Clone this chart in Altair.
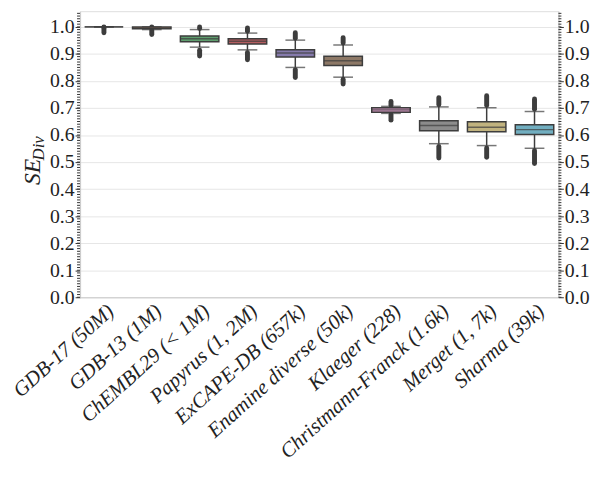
import altair as alt
import pandas as pd

names = ["GDB-17 (50M)", "GDB-13 (1M)", "ChEMBL29 (< 1M)", "Papyrus (1, 2M)",
         "ExCAPE-DB (657k)", "Enamine diverse (50k)", "Klaeger (228)",
         "Christmann-Franck (1.6k)", "Merget (1, 7k)", "Sharma (39k)"]
q1 = [1.000, 0.993, 0.945, 0.937, 0.889, 0.857, 0.684, 0.616, 0.612, 0.602]
med = [1.000, 0.997, 0.956, 0.947, 0.903, 0.875, 0.693, 0.635, 0.629, 0.620]
q3 = [1.000, 1.000, 0.966, 0.956, 0.915, 0.891, 0.701, 0.653, 0.649, 0.638]
wlo = [1.000, 0.990, 0.925, 0.915, 0.850, 0.814, 0.680, 0.568, 0.561, 0.551]
whi = [1.000, 1.000, 0.990, 0.977, 0.951, 0.933, 0.706, 0.704, 0.701, 0.687]
olo_in = [0.995, 0.988, 0.914, 0.905, 0.842, 0.806, 0.676, 0.558, 0.552, 0.543]
olo = [0.978, 0.972, 0.892, 0.878, 0.813, 0.789, 0.655, 0.515, 0.518, 0.495]
ohi_in = [1.000, 1.000, 0.994, 0.984, 0.958, 0.940, 0.710, 0.712, 0.709, 0.695]
ohi = [1.000, 1.000, 1.000, 0.996, 0.978, 0.960, 0.724, 0.738, 0.745, 0.733]
colors = ["#5975a4", "#cc8963", "#5f9e6e", "#b55d60", "#857aab",
          "#8d7866", "#d095bf", "#8c8c8c", "#c1b37f", "#71aec0"]
major_ticks = [0.0, 0.1, 0.2, 0.3, 0.4, 0.5, 0.6, 0.7, 0.8, 0.9, 1.0]
minor_ticks = [round(i * 0.01, 2) for i in range(0, 106)]

df = pd.DataFrame(dict(name=names, q1=q1, med=med, q3=q3, wlo=wlo, whi=whi,
                       olo_in=olo_in, olo=olo, ohi_in=ohi_in, ohi=ohi))
minor_df = pd.DataFrame(dict(v=minor_ticks))

FONT = "Liberation Serif"
LINE = "#3d3d3d"
W, H = 485, 290
ydom = [0, 1.058]
yscale = alt.Scale(domain=ydom, nice=False, zero=False)

xenc = alt.X("name:N", sort=names,
             scale=alt.Scale(paddingInner=0, paddingOuter=0),
             axis=alt.Axis(title=None, labelAngle=-42, labelFont=FONT,
                           labelFontSize=21, labelFontStyle="italic",
                           labelColor="#222222", ticks=False,
                           domainColor="#cccccc", domainWidth=1.2,
                           labelPadding=3, labelLimit=0, labelAlign="right",
                           labelBaseline="top"))

left_axis = alt.Axis(title=None, values=major_ticks, format=".1f", grid=True,
                     gridColor="#e6e6e6", gridWidth=1, tickColor="#333333",
                     tickSize=5, tickWidth=1, domainColor="#cccccc",
                     domainWidth=1.2, labelFont=FONT, labelFontSize=20,
                     labelColor="#222222", labelPadding=1)


def Y(field):
    return alt.Y(field, scale=yscale, axis=left_axis, title=None)


base = alt.Chart(df)
color = alt.Color("name:N", scale=alt.Scale(domain=names, range=colors), legend=None)

whisk_lo = base.mark_rule(color=LINE, strokeWidth=1.5).encode(
    x=xenc, y=Y("wlo:Q"), y2="q1:Q")
whisk_hi = base.mark_rule(color=LINE, strokeWidth=1.5).encode(
    x=xenc, y=Y("q3:Q"), y2="whi:Q")
out_lo = base.mark_rule(color=LINE, strokeWidth=5, strokeCap="round").encode(
    x=xenc, y=Y("olo:Q"), y2="olo_in:Q")
out_hi = base.mark_rule(color=LINE, strokeWidth=5, strokeCap="round").encode(
    x=xenc, y=Y("ohi_in:Q"), y2="ohi:Q")
cap_lo = base.mark_tick(color=LINE, size=20, thickness=1.5).encode(
    x=xenc, y=Y("wlo:Q"))
cap_hi = base.mark_tick(color=LINE, size=20, thickness=1.5).encode(
    x=xenc, y=Y("whi:Q"))
box = base.mark_bar(size=39, stroke=LINE, strokeWidth=1.5).encode(
    x=xenc, y=Y("q1:Q"), y2="q3:Q", color=color)
median = base.mark_tick(color=LINE, size=39, thickness=1.5).encode(
    x=xenc, y=Y("med:Q"))

minor_left = alt.Chart(minor_df).mark_rule(color="#333333", strokeWidth=1).encode(
    y=Y("v:Q"), x=alt.value(-3), x2=alt.value(0))
minor_right = alt.Chart(minor_df).mark_rule(color="#333333", strokeWidth=1).encode(
    y=Y("v:Q"), x=alt.value(W), x2=alt.value(W + 3))

title_se = alt.Chart(pd.DataFrame(dict(t=["SE"]))).mark_text(
    font=FONT, fontSize=24, fontStyle="italic", angle=270, align="center",
    baseline="middle", color="#222222").encode(
    text="t:N", x=alt.value(-48), y=alt.value(163))
title_div = alt.Chart(pd.DataFrame(dict(t=["Div"]))).mark_text(
    font=FONT, fontSize=17, fontStyle="italic", angle=270, align="center",
    baseline="middle", color="#222222").encode(
    text="t:N", x=alt.value(-41), y=alt.value(139))

main = alt.layer(whisk_lo, whisk_hi, out_lo, out_hi, cap_lo, cap_hi, box, median,
                 minor_left, minor_right, title_se, title_div)

right = alt.Chart(minor_df).mark_point(opacity=0).encode(
    y=alt.Y("v:Q", scale=yscale, title=None,
            axis=alt.Axis(orient="right", title=None, values=major_ticks,
                          format=".1f", grid=False, tickColor="#333333",
                          tickSize=5, domainColor="#cccccc", domainWidth=1.2,
                          labelFont=FONT, labelFontSize=20,
                          labelColor="#222222", labelPadding=1)))

chart = alt.layer(main, right).resolve_scale(y="independent").properties(
    width=W, height=H,
    autosize=alt.AutoSizeParams(type="none"),
    padding={"left": 73, "top": 0, "right": 32, "bottom": 181},
).configure_view(stroke=None).configure(background="white")

chart.save("out.html", embed_options={"renderer": "svg", "actions": False})
